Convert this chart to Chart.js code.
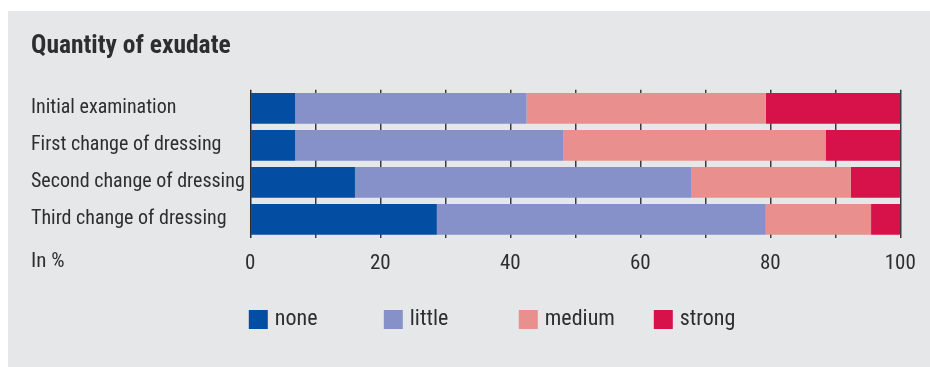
<!DOCTYPE html>
<html>
<head>
<meta charset="utf-8">
<script src="https://cdn.jsdelivr.net/npm/chart.js@4"></script>
<style>
  body { margin: 0; background: #fff; }
  #panel { position: absolute; left: 8px; top: 11px; width: 922px; height: 356px; background: #e6e7e9; }
</style>
</head>
<body>
<div id="panel"><canvas id="mychart" width="922" height="356"></canvas></div>
<script>
const ctx = document.getElementById("mychart").getContext("2d");

const FONT = "'Roboto Condensed', 'Liberation Sans', sans-serif";
const TEXT = "#2e2e2e";

// categories and series (percent shares)
const labels = [
  "Initial examination",
  "First change of dressing",
  "Second change of dressing",
  "Third change of dressing",
];
const none = [6.9, 6.9, 16.1, 28.7];
const little = [35.6, 41.3, 51.7, 50.6];
const medium = [36.8, 40.3, 24.6, 16.2];
const strong = [20.7, 11.5, 7.6, 4.5];
const tickLabels = [0, 20, 40, 60, 80, 100];

const seriesNames = ["none", "little", "medium", "strong"];
const colors = ["#034ea2", "#8591c8", "#e9908e", "#d7124b"];

const data = {
  labels,
  datasets: [none, little, medium, strong].map((values, i) => ({
    label: seriesNames[i],
    data: values,
    backgroundColor: colors[i],
    borderWidth: 0,
    barPercentage: 0.83,
    categoryPercentage: 1,
  })),
};

// "In %" next to the tick labels, and a legend with evenly spaced items
const extras = {
  id: "extras",
  afterDraw(chart) {
    const c = chart.ctx;
    const area = chart.chartArea;
    c.save();
    c.fillStyle = TEXT;
    c.font = "21px " + FONT;
    c.textBaseline = "middle";
    c.textAlign = "left";
    c.fillText("In %", 23, area.bottom + 24);

    c.font = "22px " + FONT;
    chart.data.datasets.forEach((ds, i) => {
      const x = area.left - 1.5 + i * 135;
      const y = 299;
      c.fillStyle = ds.backgroundColor;
      c.fillRect(x, y, 19, 19);
      c.fillStyle = TEXT;
      c.fillText(ds.label, x + 26, y + 9.5);
    });
    c.restore();
  },
};

const config = {
  type: "bar",
  data: data,
  plugins: [extras],
  options: {
    indexAxis: "y",
    responsive: false,
    animation: false,
    devicePixelRatio: 1,
    layout: { padding: { left: 23, right: 29.7, top: 0, bottom: 80 } },
    plugins: {
      legend: { display: false },
      tooltip: { enabled: false },
      title: {
        display: true,
        text: "Quantity of exudate",
        align: "start",
        color: TEXT,
        font: { family: FONT, size: 25.5, weight: "bold" },
        padding: { top: 20.5, bottom: 27.7 },
      },
    },
    scales: {
      x: {
        stacked: true,
        min: 0,
        max: 100,
        z: 1,
        afterFit: (s) => { s.height = 49; },
        grid: {
          color: (c) => (c.tick && c.tick.value === 0 ? "#2a2a33" : "rgba(40,40,50,0.9)"),
          lineWidth: 1.5,
          drawTicks: false,
        },
        border: { display: false },
        ticks: {
          stepSize: 10,
          autoSkip: false,
          maxRotation: 0,
          padding: 13,
          color: TEXT,
          font: { family: FONT, size: 21 },
          callback: (v) => (tickLabels.includes(v) ? v : ""),
        },
      },
      y: {
        stacked: true,
        afterFit: (s) => { s.width = 219.3; },
        grid: { display: false },
        border: { display: false },
        ticks: {
          crossAlign: "far",
          color: TEXT,
          font: { family: FONT, size: 20 },
        },
      },
    },
  },
};

const myChart = new Chart(ctx, config);
</script>
</body>
</html>
